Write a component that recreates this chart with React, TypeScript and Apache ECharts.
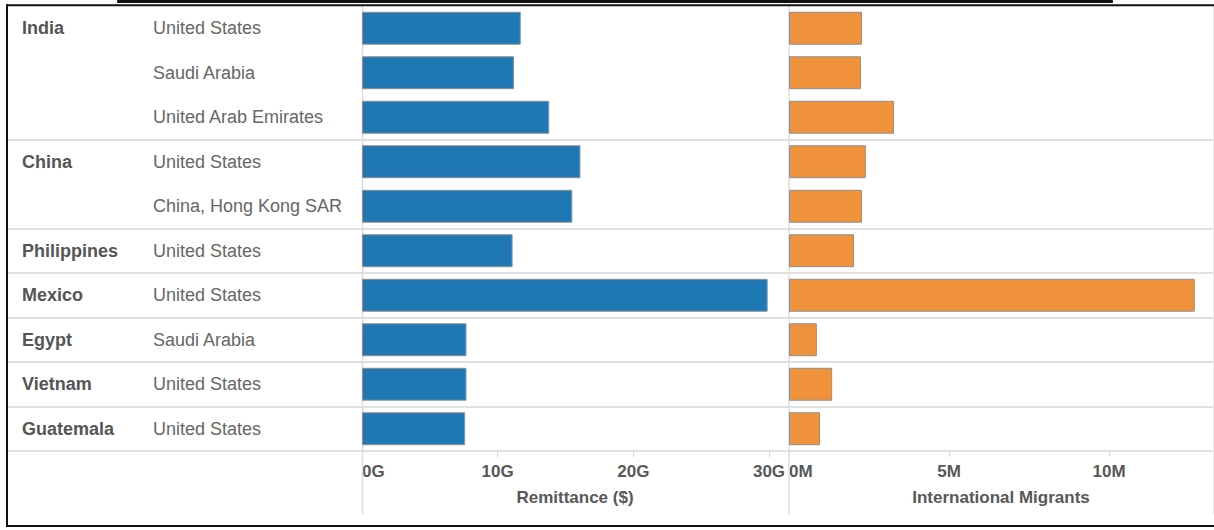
import React, { useEffect, useRef } from "react";
import * as echarts from "echarts";

const groupLabels = ["India", "", "", "China", "", "Philippines", "Mexico", "Egypt", "Vietnam", "Guatemala"];
const destLabels = [
  "United States",
  "Saudi Arabia",
  "United Arab Emirates",
  "United States",
  "China, Hong Kong SAR",
  "United States",
  "United States",
  "Saudi Arabia",
  "United States",
  "United States",
];
// Remittance in billions of dollars (G)
const remittance = [11.7, 11.2, 13.8, 16.1, 15.5, 11.1, 29.9, 7.7, 7.7, 7.6];
// International migrants in millions (M)
const migrants = [2.28, 2.25, 3.28, 2.4, 2.28, 2.03, 12.68, 0.87, 1.35, 0.97];
const remittanceTicks = [0, 10, 20, 30];
const migrantTicks = [0, 5, 10];
const remittanceTitle = "Remittance ($)";
const migrantTitle = "International Migrants";

const FONT = "'Liberation Sans', Arial, sans-serif";

export default function App() {
  const ref = useRef<HTMLDivElement>(null);

  useEffect(() => {
    document.body.style.margin = "0";
    const chart = echarts.init(ref.current!, null, { renderer: "svg" });
    const groupStart = (i: number) => i === 0 ? false : groupLabels[i] !== "";
    const tickLabel = (ticks: number[], unit: string) => (v: number) =>
      ticks.indexOf(Math.round(v * 1000) / 1000) >= 0 ? `${v}${unit}` : "";

    const axisText = { fontFamily: FONT, fontSize: 17, fontWeight: "bold" as const, color: "#585858" };

    chart.setOption({
      animation: false,
      grid: [
        { left: 8, top: 6, width: 1205, height: 445 },
        { left: 362, top: 6, width: 426, height: 445 },
        { left: 789, top: 6, width: 424, height: 445 },
      ],
      xAxis: [
        { gridIndex: 0, type: "value", show: false },
        {
          gridIndex: 1,
          type: "value",
          min: 0,
          max: 31.4,
          interval: 10,
          axisLine: { show: false },
          axisTick: { show: true, length: 6, lineStyle: { color: "#d4d4d4", width: 1 } },
          splitLine: { show: false },
          axisLabel: { ...axisText, margin: 12, formatter: tickLabel(remittanceTicks, "G"), alignMinLabel: "left", showMaxLabel: false },
          name: remittanceTitle,
          nameLocation: "middle",
          nameGap: 38,
          nameTextStyle: { ...axisText },
        },
        {
          gridIndex: 2,
          type: "value",
          min: 0,
          max: 13.25,
          interval: 5,
          axisLine: { show: false },
          axisTick: { show: true, length: 6, lineStyle: { color: "#d4d4d4", width: 1 } },
          splitLine: { show: false },
          axisLabel: { ...axisText, margin: 12, formatter: tickLabel(migrantTicks, "M"), alignMinLabel: "left", showMaxLabel: false },
          name: migrantTitle,
          nameLocation: "middle",
          nameGap: 38,
          nameTextStyle: { ...axisText },
        },
      ],
      yAxis: [
        {
          gridIndex: 0,
          type: "category",
          inverse: true,
          data: destLabels,
          axisLine: { show: false },
          axisTick: { show: false },
          axisLabel: { show: false },
          splitLine: { show: true, interval: (i: number) => groupStart(i), lineStyle: { color: "#e0e0e0", width: 2 } },
        },
        {
          gridIndex: 1,
          type: "category",
          inverse: true,
          position: "left",
          data: destLabels,
          axisLine: { show: false },
          axisTick: { show: false },
          axisLabel: { interval: 0, align: "left", margin: 209, fontFamily: FONT, fontSize: 18, color: "#666" },
        },
        {
          gridIndex: 1,
          type: "category",
          inverse: true,
          position: "left",
          offset: 0,
          data: groupLabels,
          axisLine: { show: false },
          axisTick: { show: false },
          axisLabel: { interval: 0, align: "left", margin: 340, fontFamily: FONT, fontSize: 18, fontWeight: "bold", color: "#555" },
        },
        {
          gridIndex: 2,
          type: "category",
          inverse: true,
          data: destLabels,
          axisLine: { show: false },
          axisTick: { show: false },
          axisLabel: { show: false },
        },
      ],
      series: [
        {
          type: "bar",
          xAxisIndex: 1,
          yAxisIndex: 1,
          data: remittance,
          barCategoryGap: "26%",
          itemStyle: { color: "#1f77b4", borderColor: "#8f8f8f", borderWidth: 1 },
        },
        {
          type: "bar",
          xAxisIndex: 2,
          yAxisIndex: 3,
          data: migrants,
          barCategoryGap: "26%",
          itemStyle: { color: "#f0923c", borderColor: "#8f8f8f", borderWidth: 1 },
        },
      ],
      graphic: [
        { type: "line", shape: { x1: 362.5, y1: 6, x2: 362.5, y2: 515 }, style: { stroke: "#dcdcdc", lineWidth: 1.5 }, z: 1 },
        { type: "line", shape: { x1: 789, y1: 6, x2: 789, y2: 515 }, style: { stroke: "#dcdcdc", lineWidth: 1.5 }, z: 1 },
        { type: "line", shape: { x1: 1213.5, y1: 6, x2: 1213.5, y2: 515 }, style: { stroke: "#e6e6e6", lineWidth: 1 }, z: 1 },
        { type: "rect", shape: { x: 117, y: 0, width: 996, height: 3, r: 1 }, style: { fill: "#111" }, z: 10 },
        { type: "line", shape: { x1: 6, y1: 5.3, x2: 1214, y2: 5.3 }, style: { stroke: "#111", lineWidth: 2 }, z: 10 },
        { type: "line", shape: { x1: 7, y1: 4.3, x2: 7, y2: 527 }, style: { stroke: "#111", lineWidth: 2 }, z: 10 },
        { type: "line", shape: { x1: 6, y1: 526, x2: 1214, y2: 526 }, style: { stroke: "#111", lineWidth: 2 }, z: 10 },
      ],
    });
    return () => chart.dispose();
  }, []);

  return <div ref={ref} style={{ width: 1214, height: 530 }} />;
}
